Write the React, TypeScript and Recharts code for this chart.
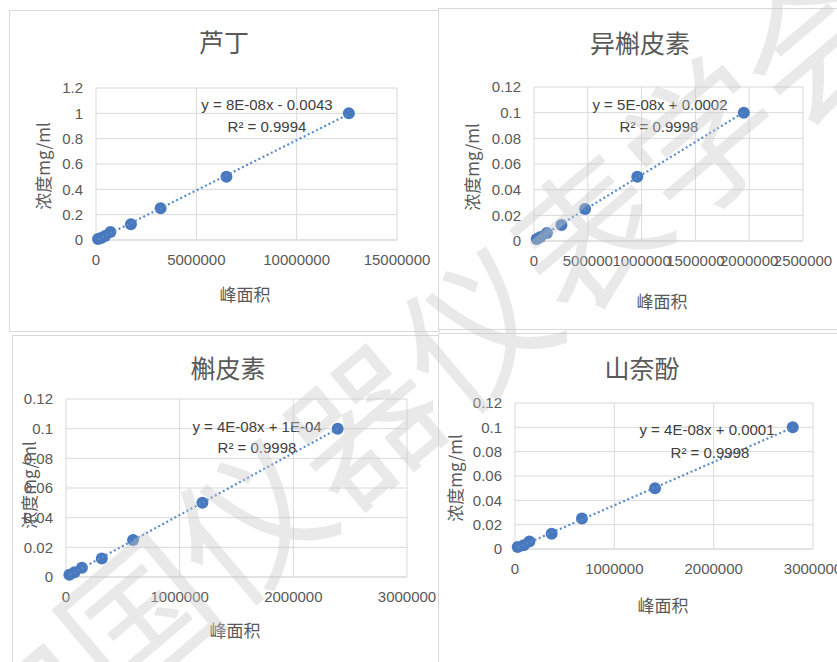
import React from 'react';
import { ScatterChart, Scatter, XAxis, YAxis, CartesianGrid } from 'recharts';

// 芦丁
const rutinArea = [12600000, 6500000, 3220000, 1740000, 720000, 450000, 250000, 100000];
const rutinConc = [1, 0.5, 0.25, 0.125, 0.0625, 0.03125, 0.015625, 0.0078];
// 异槲皮素
const isoqArea = [1950000, 960000, 475000, 255000, 120000, 60000, 25000];
const isoqConc = [0.1, 0.05, 0.025, 0.0125, 0.00625, 0.003125, 0.0015625];
// 槲皮素
const quercArea = [2390000, 1200000, 590000, 315000, 140000, 75000, 30000];
const quercConc = [0.1, 0.05, 0.025, 0.0125, 0.00625, 0.003125, 0.0015625];
// 山奈酚
const kaempArea = [2796000, 1410000, 674000, 369000, 145000, 88000, 27000];
const kaempConc = [0.1, 0.05, 0.025, 0.0125, 0.00625, 0.003125, 0.0015625];

const rutinXTicks = [0, 5000000, 10000000, 15000000];
const rutinYTicks = [0, 0.2, 0.4, 0.6, 0.8, 1, 1.2];
const isoqXTicks = [0, 500000, 1000000, 1500000, 2000000, 2500000];
const smallYTicks = [0, 0.02, 0.04, 0.06, 0.08, 0.1, 0.12];
const wideXTicks = [0, 1000000, 2000000, 3000000];

const DOT = '#4878bd';
const TREND = '#5a8ccb';
const GRID = '#d9d9d9';
const TEXT = '#595959';
const LATIN = '"Liberation Sans", "Noto Sans CJK SC", sans-serif';
const CJK = '"Noto Sans CJK SC", sans-serif';

const YW = 40;
const XH = 30;

function fit(xs: number[], ys: number[]) {
  const n = xs.length;
  const mx = xs.reduce((a, b) => a + b, 0) / n;
  const my = ys.reduce((a, b) => a + b, 0) / n;
  let sxy = 0;
  let sxx = 0;
  xs.forEach((x, i) => {
    sxy += (x - mx) * (ys[i] - my);
    sxx += (x - mx) * (x - mx);
  });
  const k = sxy / sxx;
  const b = my - k * mx;
  const lo = Math.min(...xs);
  const hi = Math.max(...xs);
  return [
    { x: lo, y: k * lo + b },
    { x: hi, y: k * hi + b },
  ];
}

const Label = ({ x, y, size, font, color, rotate, children }: any) => (
  <div
    style={{
      position: 'absolute',
      left: x,
      top: y,
      transform: `translate(-50%, -50%)${rotate ? ` rotate(${rotate}deg)` : ''}`,
      whiteSpace: 'nowrap',
      fontSize: size,
      fontFamily: font,
      color: color || TEXT,
      lineHeight: 1.2,
      textAlign: 'center',
    }}
  >
    {children}
  </div>
);

function Panel(props: any) {
  const { box, plot, xs, ys, xTicks, yTicks, title, titleAt, xTitleAt, yTitleAt, eq, r2, eqAt, r2At } = props;
  const points = xs.map((x: number, i: number) => ({ x, y: ys[i] }));
  const trend = fit(xs, ys);
  const margin = {
    left: plot.x0 - box.l - YW,
    right: box.l + box.w - plot.x1,
    top: plot.y0 - box.t,
    bottom: box.t + box.h - plot.y1 - XH,
  };
  const fmtY = (v: number) => String(parseFloat(v.toFixed(4)));
  return (
    <>
      <div
        style={{
          position: 'absolute',
          left: box.l,
          top: box.t,
          width: box.w,
          height: box.h,
          border: `1px solid ${GRID}`,
          boxSizing: 'border-box',
          background: '#fff',
        }}
      />
      <div style={{ position: 'absolute', left: box.l, top: box.t }}>
        <ScatterChart width={box.w} height={box.h} margin={margin}>
          <CartesianGrid stroke={GRID} strokeWidth={1} />
          <XAxis
            type="number"
            dataKey="x"
            domain={[xTicks[0], xTicks[xTicks.length - 1]]}
            ticks={xTicks}
            interval={0}
            height={XH}
            tickLine={false}
            tickMargin={8}
            axisLine={{ stroke: GRID }}
            tick={{ fill: TEXT, fontSize: 15, fontFamily: LATIN }}
          />
          <YAxis
            type="number"
            dataKey="y"
            domain={[yTicks[0], yTicks[yTicks.length - 1]]}
            ticks={yTicks}
            interval={0}
            width={YW}
            tickLine={false}
            tickMargin={7}
            axisLine={false}
            tickFormatter={fmtY}
            tick={{ fill: TEXT, fontSize: 15, fontFamily: LATIN }}
          />
          <Scatter
            data={points}
            isAnimationActive={false}
            shape={(p: any) => <circle cx={p.cx} cy={p.cy} r={6} fill={DOT} />}
          />
          <Scatter
            data={trend}
            isAnimationActive={false}
            line={{ stroke: TREND, strokeWidth: 2.2, strokeDasharray: '2 2.6' }}
            lineType="joint"
            shape={() => <g />}
          />
        </ScatterChart>
      </div>
      <Label x={titleAt[0]} y={titleAt[1]} size={25} font={CJK}>{title}</Label>
      <Label x={xTitleAt[0]} y={xTitleAt[1]} size={17} font={CJK}>峰面积</Label>
      <Label x={yTitleAt[0]} y={yTitleAt[1]} size={17} font={CJK} rotate={-90}>浓度mg/ml</Label>
      <Label x={eqAt[0]} y={eqAt[1]} size={15} font={LATIN} color="#404040">{eq}</Label>
      <Label x={r2At[0]} y={r2At[1]} size={15} font={LATIN} color="#404040">{r2}</Label>
    </>
  );
}

export default function App() {
  return (
    <div
      style={{
        position: 'absolute',
        left: 0,
        top: 0,
        width: 837,
        height: 662,
        overflow: 'hidden',
        background: '#fff',
      }}
    >
      <Panel
        box={{ l: 9, t: 10, w: 431, h: 322 }}
        plot={{ x0: 96, x1: 397, y0: 88, y1: 240 }}
        xs={rutinArea}
        ys={rutinConc}
        xTicks={rutinXTicks}
        yTicks={rutinYTicks}
        title="芦丁"
        titleAt={[224, 41]}
        xTitleAt={[245, 294]}
        yTitleAt={[43, 166]}
        eq="y = 8E-08x - 0.0043"
        r2="R² = 0.9994"
        eqAt={[267, 105]}
        r2At={[267, 127]}
      />
      <Panel
        box={{ l: 438, t: 8, w: 400, h: 322 }}
        plot={{ x0: 534, x1: 803, y0: 87, y1: 241 }}
        xs={isoqArea}
        ys={isoqConc}
        xTicks={isoqXTicks}
        yTicks={smallYTicks}
        title="异槲皮素"
        titleAt={[640, 42]}
        xTitleAt={[662, 301]}
        yTitleAt={[472, 167]}
        eq="y = 5E-08x + 0.0002"
        r2="R² = 0.9998"
        eqAt={[660, 105]}
        r2At={[659, 127]}
      />
      <Panel
        box={{ l: 12, t: 335, w: 428, h: 330 }}
        plot={{ x0: 66, x1: 407, y0: 399, y1: 577 }}
        xs={quercArea}
        ys={quercConc}
        xTicks={wideXTicks}
        yTicks={smallYTicks}
        title="槲皮素"
        titleAt={[228, 367]}
        xTitleAt={[235, 630]}
        yTitleAt={[29, 485]}
        eq="y = 4E-08x + 1E-04"
        r2="R² = 0.9998"
        eqAt={[257, 427]}
        r2At={[257, 448]}
      />
      <Panel
        box={{ l: 438, t: 333, w: 400, h: 332 }}
        plot={{ x0: 515, x1: 813, y0: 403, y1: 549 }}
        xs={kaempArea}
        ys={kaempConc}
        xTicks={wideXTicks}
        yTicks={smallYTicks}
        title="山奈酚"
        titleAt={[642, 367]}
        xTitleAt={[663, 605]}
        yTitleAt={[455, 478]}
        eq="y = 4E-08x + 0.0001"
        r2="R² = 0.9998"
        eqAt={[707, 430]}
        r2At={[710, 453]}
      />
      {/* watermark */}
      <div
        style={{
          position: 'absolute',
          left: 415 - 592,
          top: 372 - 74,
          width: 1184,
          height: 148,
          lineHeight: '148px',
          fontSize: 148,
          fontFamily: CJK,
          color: 'rgba(200,200,200,0.4)',
          whiteSpace: 'nowrap',
          transform: 'rotate(-40.3deg)',
          transformOrigin: '50% 50%',
          pointerEvents: 'none',
        }}
      >
        中国仪器仪表学会
      </div>
    </div>
  );
}
